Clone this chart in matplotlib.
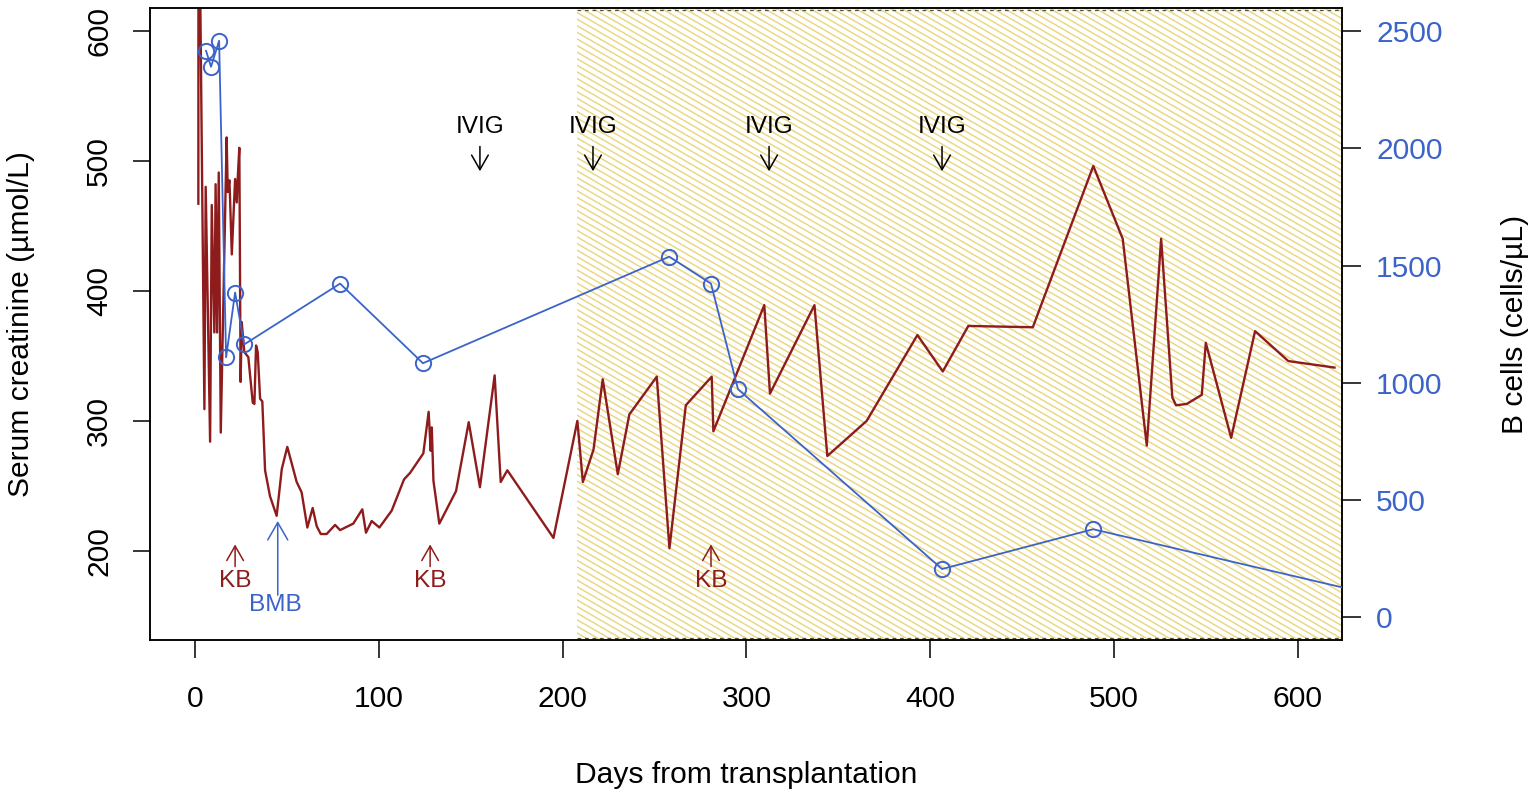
import matplotlib
matplotlib.use("Agg")

import numpy as np
import matplotlib.pyplot as plt
from matplotlib.patches import Rectangle
from matplotlib.collections import LineCollection
from matplotlib.transforms import IdentityTransform, blended_transform_factory

plt.rcParams["font.family"] = ["Liberation Sans", "DejaVu Sans"]

# ── Data ────────────────────────────────────────────────────────────────────
creat_day = [1.8, 1.9, 5.1, 5.8, 8.2, 9.1, 10.5, 11.2, 12.0, 12.9,
             14.0, 17.2, 17.8, 18.7, 19.0, 20.0, 21.8, 22.7, 23.2, 24.1,
             24.8, 25.4, 26.8, 29.0, 31.4, 32.3, 33.2, 34.1, 35.4, 36.6,
             38.1, 40.8, 44.4, 47.2, 50.2, 55.3, 58.0, 61.1, 64.0, 66.2,
             68.4, 71.6, 76.2, 78.9, 86.1, 91.0, 93.0, 96.1, 100.3, 107.0,
             113.7, 117.0, 124.2, 127.1, 128.2, 128.8, 129.7, 132.9, 142.0, 148.9,
             155.0, 163.0, 166.3, 169.9, 195.0, 208.0, 211.0, 216.8, 221.8, 230.0,
             236.3, 251.2, 258.1, 267.0, 281.1, 282.0, 309.7, 312.8, 337.0, 344.0,
             365.4, 393.0, 406.8, 420.7, 455.8, 488.7, 504.7, 517.8, 525.6, 531.7,
             533.7, 539.5, 547.7, 549.9, 563.7, 576.7, 594.8, 619.9]
creat_val = [467, 760, 309, 480, 284, 466, 368, 482, 368, 491,
             291, 518, 476, 485, 473, 428, 486, 468, 486, 510,
             330, 376, 353, 349, 314, 313, 358, 353, 317, 315,
             262, 242, 227, 263, 280, 253, 245, 218, 233, 219,
             213, 213, 220, 216, 221, 232, 214, 223, 218, 231,
             255, 260, 275, 307, 277, 295, 254, 221, 246, 299,
             249, 335, 253, 262, 210, 300, 253, 278, 332, 259,
             305, 334, 202, 312, 334, 292, 389, 321, 389, 273,
             300, 366, 338, 373, 372, 496, 440, 281, 440, 318,
             312, 313, 320, 360, 287, 369, 346, 341]

bcell_day = [6.0, 8.7, 13.1, 16.9, 21.8, 26.7, 78.9, 124.0, 258.0, 280.7,
             295.4, 406.4, 488.6, 660.0]
bcell_val = [2417, 2349, 2460, 1108, 1385, 1163, 1423, 1083, 1538, 1423,
             972, 204, 374, 60]

hatch_start = 208          # start of shaded period (days)
ivig_days = [155, 216.5, 312.3, 406.4]
kb_days = [21.8, 127.9, 280.7]
bmb_day = 45

x_ticks = [0, 100, 200, 300, 400, 500, 600]
creat_ticks = [200, 300, 400, 500, 600]
bcell_ticks = [0, 500, 1000, 1500, 2000, 2500]

RED = "#8E1C1C"
BLUE = "#3B63C9"
HATCH = "#E9D67F"

# ── Figure ───────────────────────────────────────────────────────────────────
fig = plt.figure(figsize=(15.36, 7.98), dpi=100)
ax = fig.add_axes([150 / 1536, 1 - 640 / 798, 1192 / 1536, 632 / 798])
ax2 = ax.twinx()

xlim = (-24.5, 624)
ax.set_xlim(*xlim)
ax.set_ylim(131.5, 617.5)
ax2.set_ylim(-99, 2600)

# hatched period, drawn as thin diagonal stripes clipped to a rectangle
ylo, yhi = ax.get_ylim()
hatch_rect = Rectangle((hatch_start, ylo), xlim[1] - hatch_start, yhi - ylo,
                       facecolor="none", edgecolor="none", transform=ax.transData)
ax.add_patch(hatch_rect)
slope = np.tan(np.radians(30))
offsets = np.arange(-1000, 2400, 6.6)
segs = [[(0, c), (1536, c - slope * 1536)] for c in offsets]
stripes = LineCollection(segs, colors=HATCH, linewidths=1.05,
                         transform=IdentityTransform(), zorder=0.5)
ax.add_collection(stripes, autolim=False)
stripes.set_clip_path(hatch_rect)
bt = blended_transform_factory(ax.transData, ax.transAxes)
for yy in (0.997, 0.003):
    ax.plot([hatch_start, xlim[1]], [yy, yy], transform=bt, color="#555533",
            lw=0.9, ls=(0, (3, 3)), zorder=0.6)

ax.plot(creat_day, creat_val, color=RED, lw=1.7, zorder=2)
ax2.plot(bcell_day, bcell_val, color=BLUE, lw=1.3, marker="o", ms=11,
         mfc="none", mec=BLUE, mew=1.4, zorder=3)

# ── Annotations ──────────────────────────────────────────────────────────────
ann_fs = 17.6
for d in ivig_days:
    ax.text(d, 526, "IVIG", ha="center", va="center", fontsize=ann_fs, color="black")
    ax.annotate("", xy=(d, 492), xytext=(d, 511),
                arrowprops=dict(arrowstyle="->,head_length=1.05,head_width=0.6",
                                color="black", lw=1.1, shrinkA=0, shrinkB=0,
                                mutation_scale=10))
for d in kb_days:
    ax.text(d, 177, "KB", ha="center", va="center", fontsize=ann_fs, color=RED)
    ax.annotate("", xy=(d, 205), xytext=(d, 188),
                arrowprops=dict(arrowstyle="->,head_length=1.05,head_width=0.6",
                                color=RED, lw=1.1, shrinkA=0, shrinkB=0,
                                mutation_scale=10))
ax.text(bmb_day - 1.5, 158.5, "BMB", ha="center", va="center", fontsize=ann_fs, color=BLUE)
ax.annotate("", xy=(bmb_day, 223), xytext=(bmb_day, 166),
            arrowprops=dict(arrowstyle="->,head_length=1.25,head_width=0.72",
                            color=BLUE, lw=1.1, shrinkA=0, shrinkB=0,
                            mutation_scale=10))

# ── Axes styling ─────────────────────────────────────────────────────────────
ax.set_xticks(x_ticks)
ax.set_yticks(creat_ticks)
ax2.set_yticks(bcell_ticks)
ax.tick_params(axis="x", length=13, width=1.1, labelsize=21.6, pad=19.5)
ax.tick_params(axis="y", length=12.5, width=1.1, labelsize=21.6, pad=14,
               labelrotation=90)
for lab in ax.get_yticklabels():
    lab.set_va("center")
ax2.tick_params(axis="y", length=13.5, width=1.1, labelsize=21.6, pad=11,
                labelcolor=BLUE)
for a in (ax, ax2):
    for s in a.spines.values():
        s.set_linewidth(1.1)
        s.set_color("black")

fig.text(746 / 1536, 1 - 783 / 798, "Days from transplantation", ha="center",
         va="baseline", fontsize=21.6)
fig.text(21 / 1536, 1 - 324 / 798, "Serum creatinine (\u00b5mol/L)", ha="center",
         va="center", rotation=90, fontsize=21.6)
fig.text(1515 / 1536, 1 - 324 / 798, "B cells (cells/\u00b5L)", ha="center",
         va="center", rotation=90, fontsize=21.6)

fig.savefig("out.png", dpi=100)
